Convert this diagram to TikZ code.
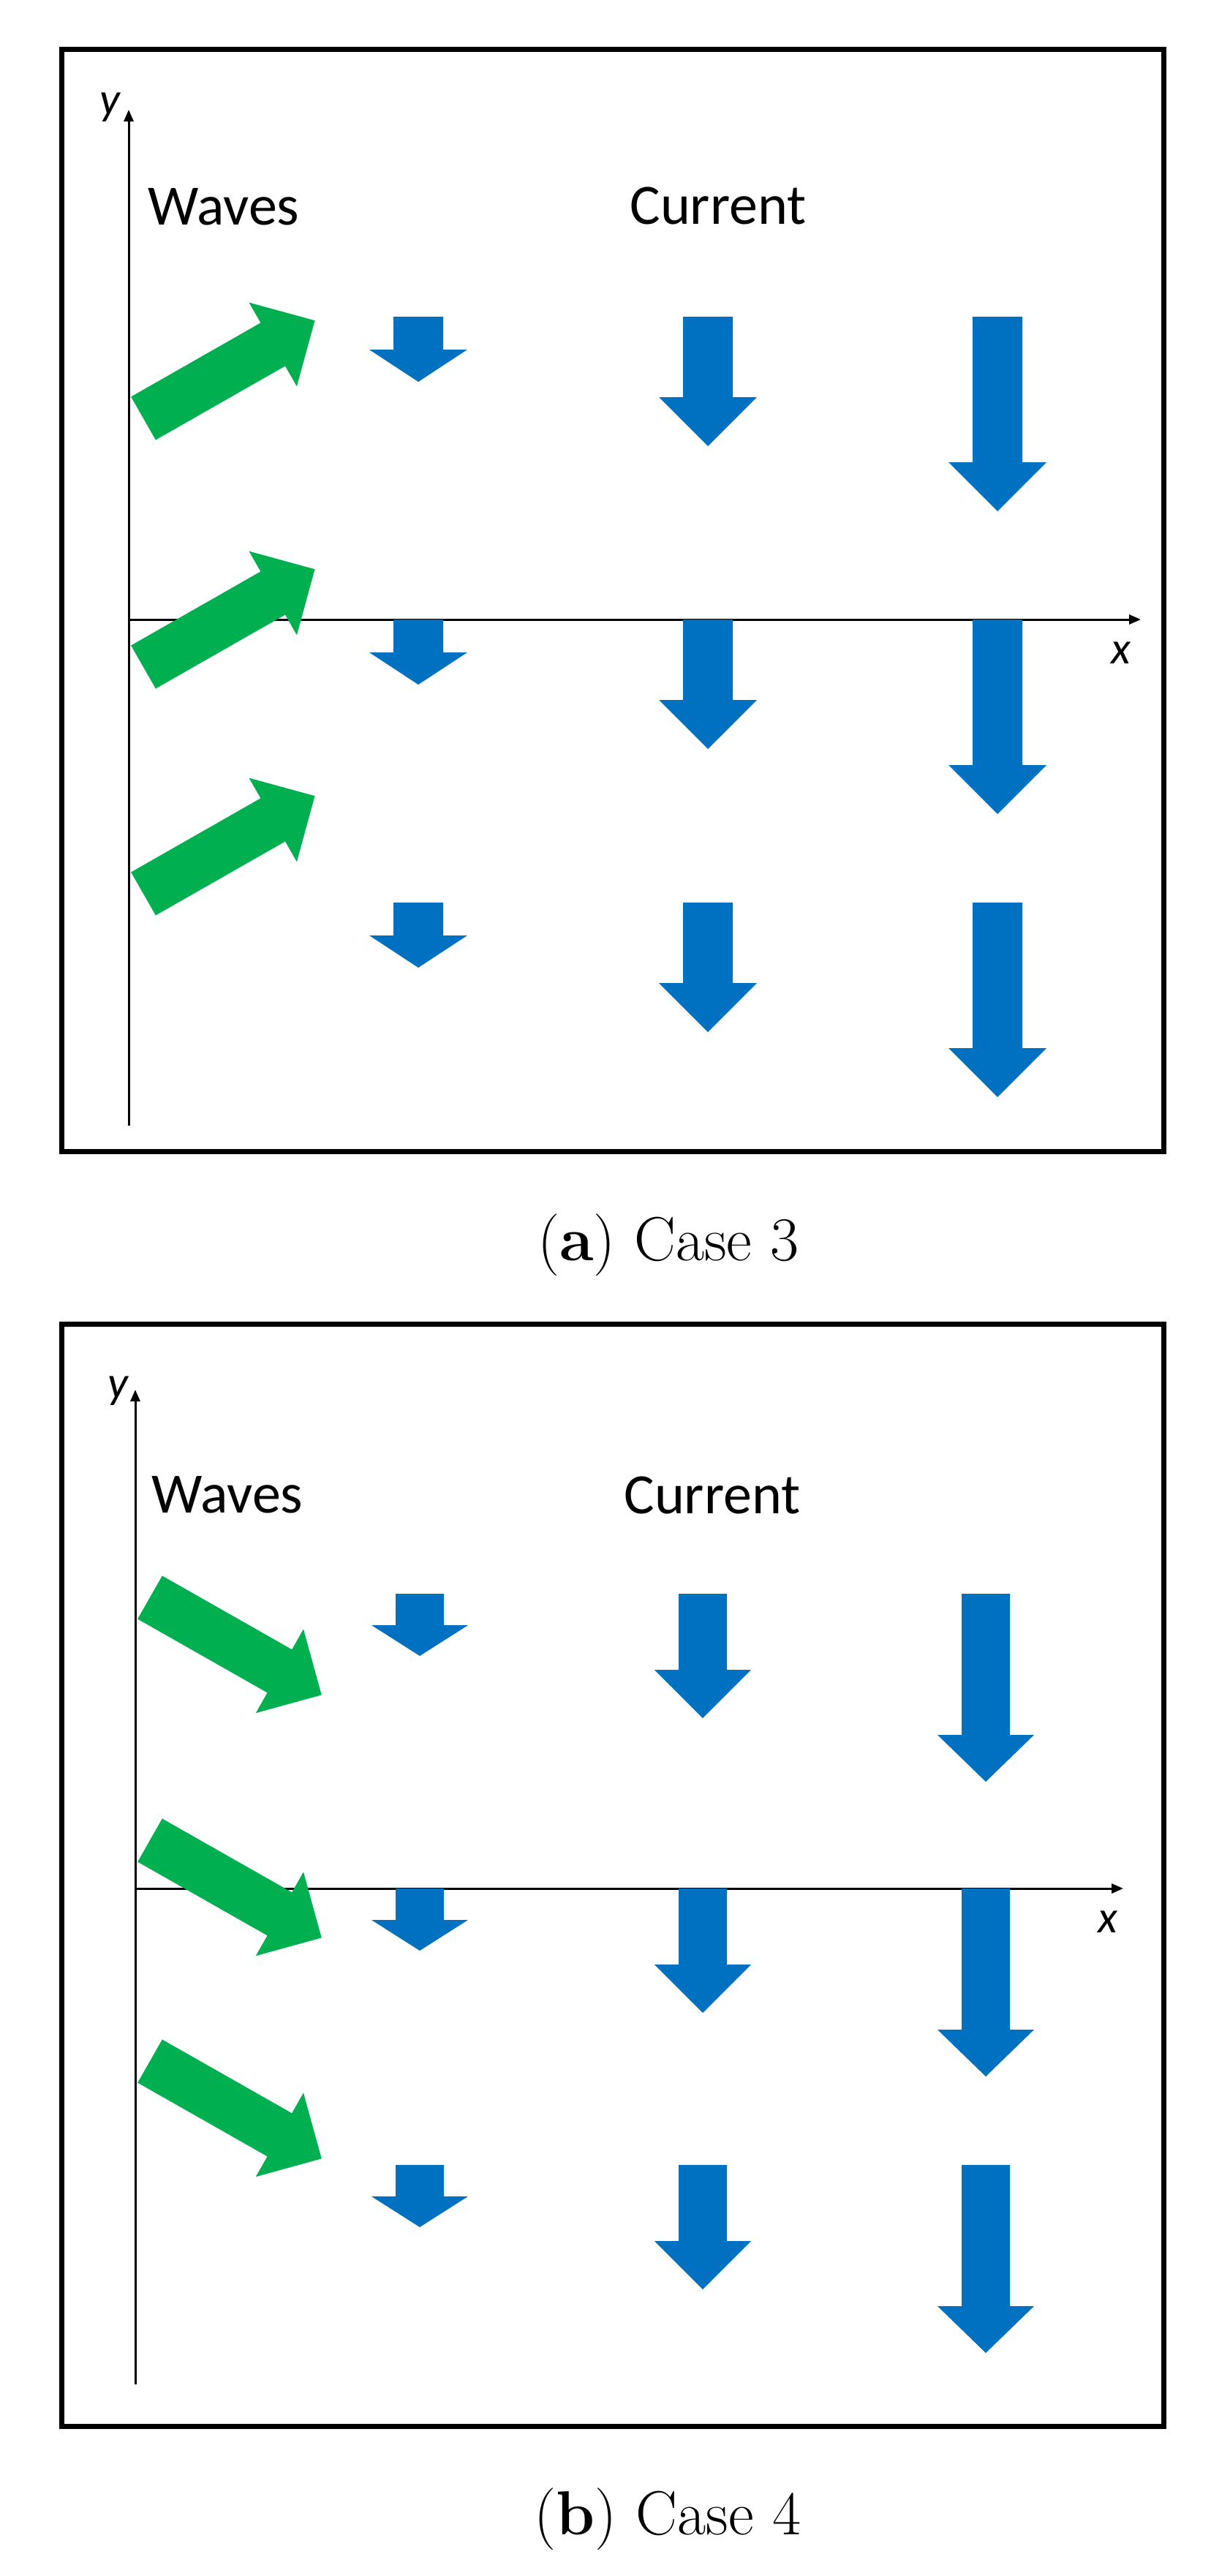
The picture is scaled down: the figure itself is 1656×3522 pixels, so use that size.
\documentclass[tikz,border=0pt]{standalone}
\usepackage{fontspec}
\newfontfamily\lab{Carlito}
\usetikzlibrary{arrows.meta}
\definecolor{wgreen}{RGB}{0,176,80}
\definecolor{cblue}{RGB}{0,112,192}
\newcommand{\bluearr}[6]{% cx top base tip shafthalf headhalf
  \fill[cblue] (#1-#5,#2) -- (#1+#5,#2) -- (#1+#5,#3) -- (#1+#6,#3) -- (#1,#4) -- (#1-#6,#3) -- (#1-#5,#3) -- cycle;}
\newcommand{\greenarr}[3]{% tailx taily angle
  \begin{scope}[shift={(#1,#2)},rotate=#3]
  \fill[wgreen] (0,-34) -- (204,-34) -- (204,-66) -- (270,0) -- (204,66) -- (204,34) -- (0,34) -- cycle;
  \end{scope}}
\begin{document}
\begin{tikzpicture}[x=1pt,y=-1pt,
  frame/.style={line width=7pt},
  axis/.style={line width=3pt,-{Triangle[length=16pt,width=13pt]}},
  lbl/.style={font=\lab\fontsize{78}{90}\selectfont,inner sep=0},
  axl/.style={font=\lab\itshape\fontsize{62}{70}\selectfont,inner sep=0},
  captxt/.style={font=\fontsize{85}{100}\selectfont,inner sep=0,anchor=base}]
\useasboundingbox (0,0) rectangle (1656,3522);
% ---- (a)
\draw[frame] (84.5,68) rectangle (1591,1574);
\coordinate (ya0) at (176,1539); \coordinate (ya1) at (176,150);
\coordinate (xa0) at (176,847); \coordinate (xa1) at (1560,847);
\draw[axis] (ya0) -- (ya1);
\draw[axis] (xa0) -- (xa1);
\node[axl] (ya) at (150,147) {y};
\node[axl] (xa) at (1533,893) {x};
\node[lbl] (wa) at (306,283) {Waves};
\node[lbl] (ca) at (982,281) {Current};
\greenarr{196}{572}{29.7}
\greenarr{196}{912}{29.7}
\greenarr{196}{1222}{29.7}
\foreach \t in {433,847,1234}{
  \bluearr{572}{\t}{\t+45}{\t+89}{34}{67}
  \bluearr{968}{\t}{\t+110}{\t+177}{34}{67}
  \bluearr{1364}{\t}{\t+199}{\t+266}{34}{67}}
\node[captxt] (capa) at (914,1723) {(\textbf{a}) Case 3};
% ---- (b)
\draw[frame] (84.5,1810) rectangle (1591,3317);
\coordinate (yb0) at (185,3260); \coordinate (yb1) at (185,1900);
\coordinate (xb0) at (185,2582); \coordinate (xb1) at (1536,2582);
\draw[axis] (yb0) -- (yb1);
\draw[axis] (xb0) -- (xb1);
\node[axl] (yb) at (161,1902) {y};
\node[axl] (xb) at (1515,2628) {x};
\node[lbl] (wb) at (311,2044) {Waves};
\node[lbl] (cb) at (974,2044) {Current};
\greenarr{205}{2184}{-29.6}
\greenarr{205}{2516}{-29.6}
\greenarr{205}{2818}{-29.6}
\foreach \t in {2179,2582,2960}{
  \bluearr{574}{\t}{\t+43}{\t+85}{33}{66}
  \bluearr{961}{\t}{\t+104}{\t+170}{33}{66}
  \bluearr{1348}{\t}{\t+193}{\t+257}{33}{66}}
\node[captxt] (capb) at (913,3465) {(\textbf{b}) Case 4};
\end{tikzpicture}
\end{document}
